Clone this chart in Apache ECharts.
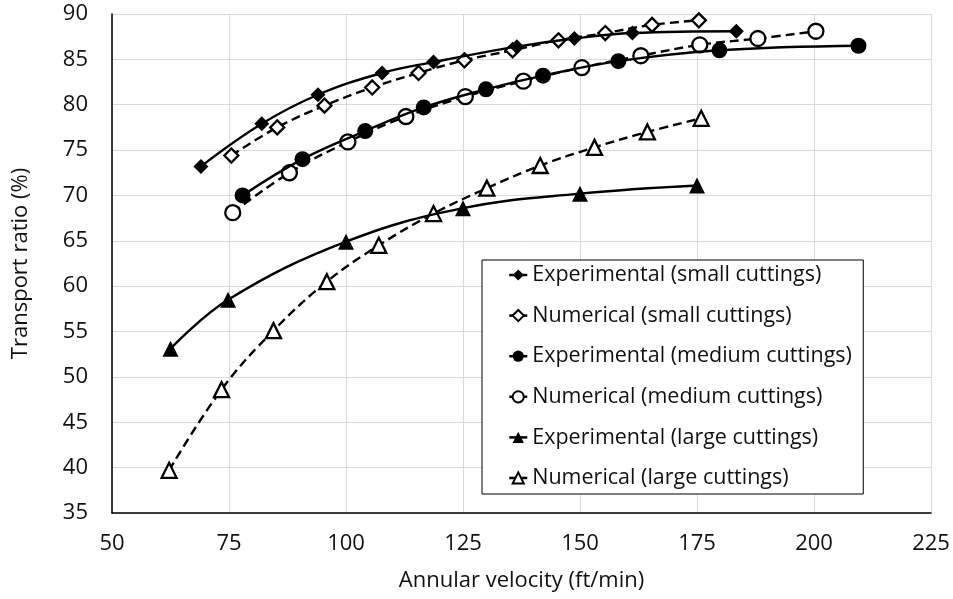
<!DOCTYPE html>
<html>
<head>
<meta charset="utf-8">
<script src="https://cdn.jsdelivr.net/npm/echarts@6/dist/echarts.min.js"></script>
<style>html,body{margin:0;padding:0;background:#fff;}#c{width:953px;height:599px;}</style>
</head>
<body>
<div id="c"></div>
<script>
var seriesNames = ['Experimental (small cuttings)','Numerical (small cuttings)','Experimental (medium cuttings)','Numerical (medium cuttings)','Experimental (large cuttings)','Numerical (large cuttings)'];
var expSmallX = [69, 82, 94, 107.7, 118.7, 136.5, 148.8, 161.2, 183.4];
var expSmallY = [73.2, 77.9, 81.1, 83.5, 84.7, 86.4, 87.3, 87.9, 88.1];
var numSmallX = [75.5, 85.3, 95.4, 105.6, 115.5, 125.3, 135.6, 145.4, 155.4, 165.4, 175.4];
var numSmallY = [74.4, 77.5, 79.9, 81.9, 83.5, 84.9, 86.0, 87.1, 87.9, 88.8, 89.3];
var expMedX = [77.9, 90.7, 104.1, 116.6, 129.9, 142.1, 158.2, 179.8, 209.5];
var expMedY = [70.0, 74.0, 77.1, 79.7, 81.7, 83.2, 84.8, 86.0, 86.5];
var numMedX = [75.8, 87.9, 100.4, 112.8, 125.5, 137.9, 150.4, 163.0, 175.6, 188.0, 200.4];
var numMedY = [68.1, 72.5, 75.9, 78.7, 80.9, 82.6, 84.1, 85.4, 86.6, 87.3, 88.1];
var expLargeX = [62.5, 74.8, 100, 125, 150, 175];
var expLargeY = [53.1, 58.5, 64.9, 68.6, 70.2, 71.1];
var numLargeX = [62.2, 73.4, 84.5, 95.9, 107, 118.7, 130.1, 141.5, 153.1, 164.4, 175.9];
var numLargeY = [39.7, 48.6, 55.1, 60.5, 64.5, 68.0, 70.8, 73.3, 75.3, 77.0, 78.5];

function pairs(xs, ys){ return xs.map(function(x,i){ return [x, ys[i]]; }); }
var FONT = '"Open Sans", "Liberation Sans", sans-serif';
var TXT = '#111';

function mk(name, xs, ys, symbol, size, filled, dashed){
  return {
    name: name, type: 'line', data: pairs(xs, ys), smooth: 0.4,
    symbol: symbol, symbolSize: size, showAllSymbol: true,
    lineStyle: {color: '#000', width: 2.4, type: dashed ? [9,5] : 'solid'},
    itemStyle: {color: filled ? '#000' : '#fff', borderColor: '#000', borderWidth: filled ? 0 : 2.3},
    emphasis: {disabled: true}, z: dashed ? 3 : 4
  };
}

var chart = echarts.init(document.getElementById('c'), null, {renderer: 'canvas'});
chart.setOption({
  animation: false,
  backgroundColor: '#fff',
  grid: {left: 112, top: 14, right: 22, bottom: 86, containLabel: false},
  xAxis: {
    type: 'value', min: 50, max: 225, interval: 25,
    name: 'Annular velocity (ft/min)', nameLocation: 'middle', nameGap: 57,
    nameTextStyle: {fontFamily: FONT, fontSize: 22, color: TXT},
    axisLine: {show: true, onZero: false, lineStyle: {color: '#000', width: 1.5}},
    axisTick: {show: false},
    axisLabel: {fontFamily: FONT, fontSize: 22, color: TXT, margin: 20},
    splitLine: {show: true, lineStyle: {color: '#d9d9d9', width: 1}}
  },
  yAxis: {
    type: 'value', min: 35, max: 90, interval: 5,
    name: 'Transport ratio (%)', nameLocation: 'middle', nameGap: 80,
    nameTextStyle: {fontFamily: FONT, fontSize: 22, color: TXT},
    axisLine: {show: true, onZero: false, lineStyle: {color: '#000', width: 1.5}},
    axisTick: {show: false},
    axisLabel: {fontFamily: FONT, fontSize: 22, color: TXT, margin: 24},
    splitLine: {show: true, lineStyle: {color: '#d9d9d9', width: 1}}
  },
  legend: {
    data: seriesNames,
    orient: 'vertical', left: 482, top: 260,
    backgroundColor: '#fff', borderColor: '#000', borderWidth: 1,
    padding: [2, 9, 3, 26],
    itemWidth: 18, itemHeight: 14, itemGap: 14.6,
    lineStyle: {width: 2.5, type: 'solid', color: '#000'},
    textStyle: {fontFamily: FONT, fontSize: 21.5, color: TXT, lineHeight: 26, width: 322, overflow: 'none'},
    selectedMode: false
  },
  series: [
    mk(seriesNames[0], expSmallX, expSmallY, 'diamond', 15, true, false),
    mk(seriesNames[1], numSmallX, numSmallY, 'diamond', 14, false, true),
    mk(seriesNames[2], expMedX, expMedY, 'circle', 16, true, false),
    mk(seriesNames[3], numMedX, numMedY, 'circle', 15, false, true),
    mk(seriesNames[4], expLargeX, expLargeY, 'triangle', 16, true, false),
    mk(seriesNames[5], numLargeX, numLargeY, 'triangle', 15, false, true)
  ]
});
</script>
</body>
</html>
